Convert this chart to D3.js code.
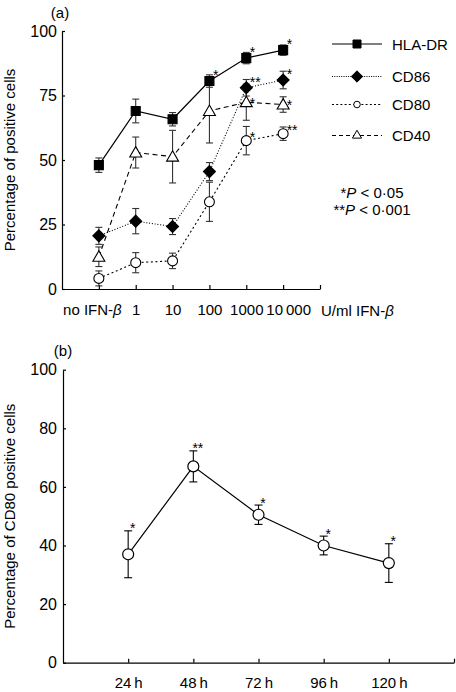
<!DOCTYPE html>
<html><head><meta charset="utf-8">
<script src="https://cdn.jsdelivr.net/npm/d3@7/dist/d3.min.js"></script>
<style>
body{margin:0;background:#fff}
svg{display:block;font-family:"Liberation Sans",Arial,Helvetica,sans-serif}
</style>
</head><body>
<svg id="c" width="456" height="692"></svg>
<script>
// ---------- DATA ----------
const doseLabels = ["no IFN-β", "1", "10", "100", "1000", "10\u2009000"];
const hlaDR     = [48, 69, 65.8, 80.6, 89.5, 92.6];
const hlaDRErr  = [2.8, 4.6, 2.6, 2.4, 2.2, 2];
const hlaDRSig  = ["", "", "", "*", "*", "*"];
const cd86      = [20.6, 26.3, 24.2, 45.5, 78, 81];
const cd86Err   = [3.3, 4.9, 3.1, 3.5, 3.2, 3.4];
const cd86Sig   = ["", "", "", "", "**", "*"];
const cd80      = [4.1, 10.2, 10.9, 33.8, 57.5, 60.2];
const cd80Err   = [2.9, 3.9, 3, 7.6, 5.5, 2.6];
const cd80Sig   = ["", "", "", "", "*", "**"];
const cd40      = [12.5, 52.9, 51.3, 69, 72.4, 71.5];
const cd40Err   = [3.8, 6, 10.2, 12.4, 7, 3];
const cd40Sig   = ["", "", "", "", "*", "*"];
const yTicksA   = [0, 25, 50, 75, 100];

const timeLabels = ["24\u2009h", "48\u2009h", "72\u2009h", "96\u2009h", "120\u2009h"];
const cd80Time    = [37, 67, 50.5, 40, 34];
const cd80TimeErr = [8, 5.3, 3.3, 3.2, 6.6];
const cd80TimeSig = ["*", "**", "*", "*", "*"];
const yTicksB     = [0, 20, 40, 60, 80, 100];

// ---------- SETUP ----------
const svg = d3.select("#c");
const FS = 15;

// square diamond (a square rotated by 45 degrees)
const squareDiamond = {
  draw(ctx, size) {
    const r = Math.sqrt(size / 2);
    ctx.moveTo(0, -r); ctx.lineTo(r, 0); ctx.lineTo(0, r); ctx.lineTo(-r, 0); ctx.closePath();
  }
};

const series = [
  {name: "HLA-DR", v: hlaDR, e: hlaDRErr, sig: hlaDRSig, dash: null, legDash: null, sym: d3.symbolSquare, size: 81, fill: "#000", legSize: 64, starDy: -9},
  {name: "CD86", v: cd86, e: cd86Err, sig: cd86Sig, dash: "1,1.8", legDash: "1,1.3", sym: squareDiamond, size: 72, fill: "#000", legSize: 64, starDy: -9},
  {name: "CD80", v: cd80, e: cd80Err, sig: cd80Sig, dash: "2,2.6", legDash: "2,2.2", sym: d3.symbolCircle, size: 78, fill: "#fff", legSize: 34, starDy: -6.5},
  {name: "CD40", v: cd40, e: cd40Err, sig: cd40Sig, dash: "5,3.5", legDash: "4,3", sym: d3.symbolTriangle, size: 62, fill: "#fff", legSize: 36, starDy: -2.5}
];

// ---------- PANEL A ----------
const xA = d3.scaleLinear().domain([-1, 6]).range([62, 320]);
const yA = d3.scaleLinear().domain([0, 100]).range([289, 31]);
const gA = svg.append("g");

const xAxisA = d3.axisBottom(xA)
  .tickValues([0, 1, 2, 3, 4, 5, 6])
  .tickFormat(i => i < doseLabels.length ? doseLabels[i] : "")
  .tickSize(-4).tickSizeOuter(0).tickPadding(15);
const gxA = gA.append("g").attr("transform", `translate(0,${yA(0)})`).call(xAxisA);
gxA.selectAll("text").filter((d) => d === 0).text("no IFN-").attr("dx", -7)
  .append("tspan").style("font-style", "italic").text("β");
gxA.selectAll("text").filter((d) => d === 5).attr("dx", 5);

const yAxisA = d3.axisLeft(yA).tickValues(yTicksA).tickSize(-3).tickSizeOuter(0).tickPadding(5);
const gyA = gA.append("g").attr("transform", `translate(${xA(-1)},0)`).call(yAxisA);

[gxA, gyA].forEach(g => {
  g.selectAll("path,line").attr("stroke", "#000").attr("stroke-width", 1.2);
  g.selectAll("text").attr("font-size", FS + 1).attr("fill", "#000").attr("font-family", null);
});
gxA.selectAll("text").attr("font-size", FS);

gA.append("text").attr("x", xA(6) + 1).attr("y", yA(0) + 27).attr("font-size", FS)
  .text("U/ml IFN-").append("tspan").style("font-style", "italic").text("β");

gA.append("text").attr("transform", `translate(15,${(yA(0) + yA(100)) / 2}) rotate(-90)`)
  .attr("text-anchor", "middle").attr("font-size", FS).text("Percentage of positive cells");
gA.append("text").attr("x", 60).attr("y", 18).attr("text-anchor", "middle").attr("font-size", FS).text("(a)");

const idx = d3.range(6);
series.forEach(s => {
  const line = d3.line().x(i => xA(i)).y(i => yA(s.v[i]));
  gA.append("path").datum(idx).attr("d", line).attr("fill", "none").attr("stroke", "#000")
    .attr("stroke-width", s.dash ? 1.1 : 1.2).attr("stroke-dasharray", s.dash);
});
series.forEach(s => {
  const g = gA.append("g").attr("stroke", "#333").attr("stroke-width", 1.1);
  idx.forEach(i => {
    const x = xA(i), y1 = yA(s.v[i] + s.e[i]), y2 = yA(s.v[i] - s.e[i]);
    g.append("line").attr("x1", x).attr("x2", x).attr("y1", y1).attr("y2", y2);
    g.append("line").attr("x1", x - 3.5).attr("x2", x + 3.5).attr("y1", y1).attr("y2", y1);
    g.append("line").attr("x1", x - 3.5).attr("x2", x + 3.5).attr("y1", y2).attr("y2", y2);
  });
});
series.forEach(s => {
  idx.forEach(i => {
    const x = xA(i), y = yA(s.v[i]);
    const yy = s.sym === d3.symbolTriangle ? y + 1 : y;
    gA.append("path").attr("d", d3.symbol(s.sym, s.size)())
      .attr("transform", `translate(${x},${yy})`)
      .attr("fill", s.fill).attr("stroke", "#000").attr("stroke-width", 1.1);
    if (s.sig[i]) {
      gA.append("text").attr("x", x + 3.5).attr("y", y + s.starDy + 8)
        .attr("font-size", 14).attr("fill", "#000").text(s.sig[i]);
    }
  });
});

// legend
const legY = [44, 76.5, 104.5, 135.5];
series.forEach((s, k) => {
  const g = gA.append("g").attr("transform", `translate(0,${legY[k]})`);
  g.append("line").attr("x1", 332).attr("x2", 382).attr("y1", 0).attr("y2", 0)
    .attr("stroke", "#000").attr("stroke-width", s.dash ? 1 : 1.2).attr("stroke-dasharray", s.legDash);
  g.append("path").attr("d", d3.symbol(s.sym, s.legSize)()).attr("transform", "translate(357,0)")
    .attr("fill", s.fill).attr("stroke", "#000").attr("stroke-width", 1);
  g.append("text").attr("x", 392).attr("y", 5.5).attr("font-size", FS).text(s.name);
});
const pl = [["*", "0·05"], ["**", "0·001"]];
pl.forEach((p, k) => {
  const t = gA.append("text").attr("x", 372).attr("y", 198 + k * 17).attr("text-anchor", "middle").attr("font-size", FS);
  t.append("tspan").text(p[0]);
  t.append("tspan").style("font-style", "italic").text("P");
  t.append("tspan").text(" < " + p[1]);
});

// ---------- PANEL B ----------
const xB = d3.scaleLinear().domain([-1, 5]).range([63, 454]);
const yB = d3.scaleLinear().domain([0, 100]).range([662.7, 369.7]);
const gB = svg.append("g");

const xAxisB = d3.axisBottom(xB).tickValues([0, 1, 2, 3, 4, 5])
  .tickFormat(i => i < timeLabels.length ? timeLabels[i] : "")
  .tickSize(-4).tickSizeOuter(0).tickPadding(15);
const gxB = gB.append("g").attr("transform", `translate(0,${yB(0)})`).call(xAxisB);
const yAxisB = d3.axisLeft(yB).tickValues(yTicksB).tickSize(-3).tickSizeOuter(0).tickPadding(6);
const gyB = gB.append("g").attr("transform", `translate(${xB(-1)},0)`).call(yAxisB);
[gxB, gyB].forEach(g => {
  g.selectAll("path,line").attr("stroke", "#000").attr("stroke-width", 1.2);
  g.selectAll("text").attr("font-size", FS + 1).attr("fill", "#000").attr("font-family", null);
});
gxB.selectAll("text").attr("font-size", FS);

gB.append("text").attr("transform", `translate(15,${(yB(0) + yB(100)) / 2}) rotate(-90)`)
  .attr("text-anchor", "middle").attr("font-size", FS).text("Percentage of CD80 positive cells");
gB.append("text").attr("x", 63).attr("y", 356).attr("text-anchor", "middle").attr("font-size", FS).text("(b)");

const idxB = d3.range(5);
gB.append("path").datum(idxB).attr("d", d3.line().x(i => xB(i)).y(i => yB(cd80Time[i])))
  .attr("fill", "none").attr("stroke", "#000").attr("stroke-width", 1.2);
idxB.forEach(i => {
  const x = xB(i), y1 = yB(cd80Time[i] + cd80TimeErr[i]), y2 = yB(cd80Time[i] - cd80TimeErr[i]);
  const g = gB.append("g").attr("stroke", "#000").attr("stroke-width", 1.1);
  g.append("line").attr("x1", x).attr("x2", x).attr("y1", y1).attr("y2", y2);
  g.append("line").attr("x1", x - 4).attr("x2", x + 4).attr("y1", y1).attr("y2", y1);
  g.append("line").attr("x1", x - 4).attr("x2", x + 4).attr("y1", y2).attr("y2", y2);
  gB.append("circle").attr("cx", x).attr("cy", yB(cd80Time[i])).attr("r", 5.5)
    .attr("fill", "#fff").attr("stroke", "#000").attr("stroke-width", 1.2);
  gB.append("text").attr("x", x + 4.5).attr("y", y1 - 5.5 + 8).attr("text-anchor", "middle")
    .attr("font-size", 14).attr("fill", "#000").text(cd80TimeSig[i]);
});
</script>
</body></html>
